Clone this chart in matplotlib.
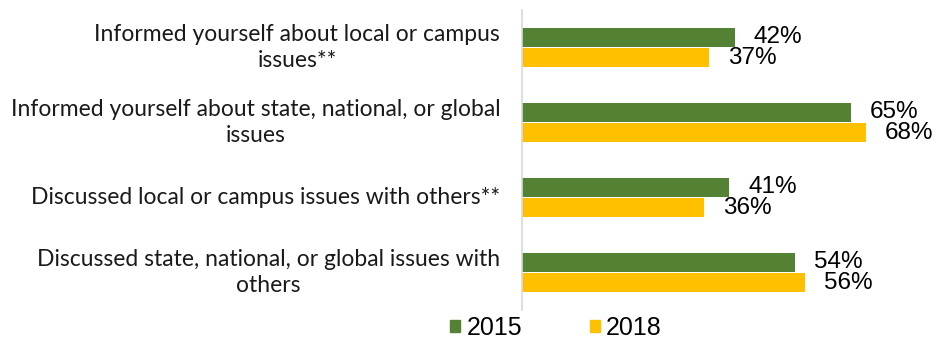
import matplotlib
matplotlib.use("Agg")
import matplotlib.pyplot as plt
from matplotlib.patches import Patch
import numpy as np

categories = [
    "Informed yourself about local or campus\nissues**",
    "Informed yourself about state, national, or global\nissues",
    "Discussed local or campus issues with others**",
    "Discussed state, national, or global issues with\nothers",
]
v2015 = [42, 65, 41, 54]
v2018 = [37, 68, 36, 56]
series_names = ["2015", "2018"]
colors = ["#548235", "#FFC000"]

W, H = 937, 341
fig = plt.figure(figsize=(W / 100, H / 100), dpi=100)
ax = fig.add_axes([522 / W, 31 / H, 415 / W, 300 / H])

y = np.arange(len(categories))
off = 0.135
h = 0.25
ax.barh(y - off, v2015, height=h, color=colors[0])
ax.barh(y + off, v2018, height=h, color=colors[1])

for yi, v in zip(y, v2015):
    ax.text(v + 3.7, yi - off, f"{v}%", va="center", ha="left", fontsize=17.5,
            family="Liberation Sans", color="#000000")
for yi, v in zip(y, v2018):
    ax.text(v + 3.7, yi + off, f"{v}%", va="center", ha="left", fontsize=17.5,
            family="Liberation Sans", color="#000000")

ax.set_xlim(0, 415 / 5.06)
ax.set_ylim(len(categories) - 0.5, -0.5)
ax.set_xticks([])
ax.set_yticks([])
for s in ["top", "right", "bottom"]:
    ax.spines[s].set_visible(False)
ax.spines["left"].set_color("#D9D9D9")
ax.spines["left"].set_linewidth(1.2)

for yi, c in zip(y, categories):
    ax.text(-4.3, yi, c, ha="right", va="center", multialignment="center",
            fontsize=16.5, family="Lato", color="#1a1a1a",
            linespacing=1.3)

handles = [Patch(color=colors[0]), Patch(color=colors[1])]
fig.legend(handles, series_names, loc="center", bbox_to_anchor=(556 / W, 1 - 328 / H),
           ncol=2, frameon=False, handlelength=0.4, handleheight=0.4,
           columnspacing=2.7, handletextpad=0.25,
           prop={"family": "Liberation Sans", "size": 18})

fig.savefig("out.png", dpi=100)
